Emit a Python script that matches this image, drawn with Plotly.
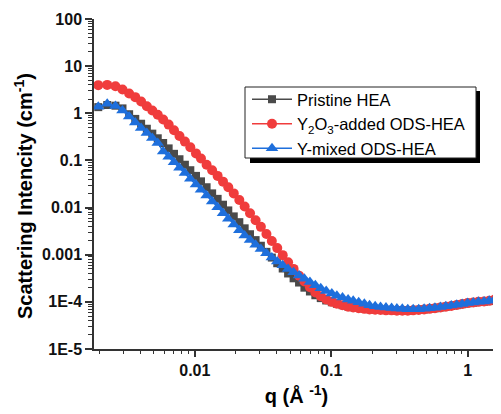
import plotly.graph_objects as go

q = [0.00196, 0.00228, 0.00262, 0.00295, 0.0033, 0.00366, 0.00404, 0.00445, 0.00488, 0.00535,
     0.00586, 0.00643, 0.00704, 0.00772, 0.00846, 0.00927, 0.0102, 0.0111, 0.0122, 0.0134,
     0.0147, 0.0161, 0.0176, 0.0193, 0.0212, 0.0232, 0.0254, 0.0279, 0.0305, 0.0335,
     0.0367, 0.0402, 0.0441, 0.0483, 0.0530, 0.0581, 0.0636, 0.0698, 0.0765, 0.0838,
     0.0919, 0.101, 0.110, 0.121, 0.133, 0.145, 0.159, 0.175, 0.191, 0.210,
     0.230, 0.252, 0.277, 0.303, 0.332, 0.364, 0.399, 0.438, 0.480, 0.526,
     0.576, 0.632, 0.692, 0.759, 0.832, 0.912, 1.00, 1.10, 1.20, 1.32,
     1.44, 1.58, 1.73]

pristine = [1.35, 1.5, 1.45, 1.27, 0.955, 0.76, 0.60, 0.47, 0.37, 0.295,
            0.234, 0.18, 0.138, 0.106, 0.081, 0.062, 0.047, 0.036, 0.027, 0.020,
            0.0153, 0.0115, 0.0087, 0.0065, 0.0049, 0.00363, 0.00272, 0.00204, 0.00155, 0.00115,
            0.00087, 0.00066, 0.00051, 0.0004, 0.000316, 0.000257, 0.0002, 0.000166, 0.000138, 0.00012,
            0.000107, 9.8e-5, 9.1e-5, 8.5e-5, 8.0e-5, 7.7e-5, 7.4e-5, 7.2e-5, 7.0e-5, 6.9e-5,
            6.8e-5, 6.7e-5, 6.7e-5, 6.6e-5, 6.6e-5, 6.6e-5, 6.7e-5, 6.8e-5, 6.9e-5, 7.1e-5,
            7.3e-5, 7.6e-5, 7.9e-5, 8.2e-5, 8.5e-5, 8.9e-5, 9.3e-5, 9.6e-5, 9.9e-5, 1.01e-4,
            1.04e-4, 1.1e-4, 1.0e-4]

y2o3 = [3.95, 4.0, 3.75, 3.2, 2.63, 2.2, 1.78, 1.41, 1.15, 0.93,
        0.74, 0.575, 0.436, 0.331, 0.251, 0.19, 0.141, 0.11, 0.081, 0.062,
        0.047, 0.0355, 0.0269, 0.020, 0.0145, 0.0105, 0.0076, 0.0054, 0.0039, 0.00275,
        0.00195, 0.00138, 0.00098, 0.00069, 0.0005, 0.00036, 0.00027, 0.000204, 0.000158, 0.000132,
        0.000112, 0.0001, 9.1e-5, 8.5e-5, 7.9e-5, 7.6e-5, 7.3e-5, 7.1e-5, 6.9e-5, 6.8e-5,
        6.7e-5, 6.6e-5, 6.6e-5, 6.5e-5, 6.5e-5, 6.5e-5, 6.6e-5, 6.7e-5, 6.9e-5, 7.1e-5,
        7.3e-5, 7.6e-5, 7.9e-5, 8.2e-5, 8.6e-5, 9.0e-5, 9.4e-5, 9.7e-5, 1.0e-4, 1.02e-4,
        1.05e-4, 1.12e-4, 1.0e-4]

ymixed = [1.37, 1.6, 1.42, 1.15, 0.85, 0.64, 0.49, 0.38, 0.30, 0.235,
          0.155, 0.119, 0.091, 0.070, 0.054, 0.041, 0.031, 0.024, 0.018, 0.0135,
          0.0101, 0.0076, 0.0058, 0.0044, 0.0033, 0.00257, 0.00204, 0.00162, 0.00132, 0.00107,
          0.00087, 0.00072, 0.0006, 0.0005, 0.000427, 0.000363, 0.000309, 0.000263, 0.000224, 0.000195,
          0.00017, 0.000151, 0.000135, 0.000123, 0.000112, 0.000105, 9.8e-5, 9.1e-5, 8.5e-5, 8.1e-5,
          7.8e-5, 7.6e-5, 7.4e-5, 7.2e-5, 7.1e-5, 7.0e-5, 7.0e-5, 7.0e-5, 7.1e-5, 7.3e-5,
          7.5e-5, 7.8e-5, 8.1e-5, 8.4e-5, 8.7e-5, 9.0e-5, 9.4e-5, 9.7e-5, 1.0e-4, 1.02e-4,
          1.05e-4, 1.12e-4, 1.0e-4]

series_names = ["Pristine HEA", "Y<sub>2</sub>O<sub>3</sub>-added ODS-HEA", "Y-mixed ODS-HEA"]
x_tickvals = [0.01, 0.1, 1]
x_ticktext = ["<b>0.01</b>", "<b>0.1</b>", "<b>1</b>"]
y_tickvals = [1e-5, 1e-4, 1e-3, 1e-2, 1e-1, 1, 10, 100]
y_ticktext = ["<b>1E-5</b>", "<b>1E-4</b>", "<b>0.001</b>", "<b>0.01</b>", "<b>0.1</b>",
              "<b>1</b>", "<b>10</b>", "<b>100</b>"]
x_title = "<b>q (Å <sup>-1</sup>)</b>"
y_title = "<b>Scattering Intencity (cm<sup>-1</sup>)</b>"

# page body has an 8px margin: figure is placed at (8, 8) in the window
OFF = 8
W, H = 501 - OFF, 414 - OFF
PL, PR, PT, PB = 94, 499, 19, 349          # plot area in window pixels
L, T = PL - OFF, PT - OFF
R = W - (PR - OFF)
B = H - (PB - OFF)
pw, ph = W - L - R, H - T - B


def px(x, y):
    """window pixel -> paper coords"""
    return (x - OFF - L) / pw, 1 - (y - OFF - T) / ph


FONT = "Liberation Sans, Arial, sans-serif"
AX = "#333333"

fig = go.Figure()
styles = [("#4a4a4a", "square", 8), ("#f03c3c", "circle", 10), ("#1e6fdc", "triangle-up", 11)]
for name, ys, (c, sym, sz) in zip(series_names, [pristine, y2o3, ymixed], styles):
    fig.add_trace(go.Scatter(x=q, y=ys, name=name, mode="lines+markers",
                             line=dict(color=c, width=1.5),
                             marker=dict(color=c, symbol=sym, size=sz, line=dict(width=0))))

xr = [-2.739, 0.23]
yr = [-5, 2]
common = dict(type="log", showgrid=False, zeroline=False, showline=True, linecolor=AX, linewidth=1.5,
              tickcolor=AX, tickwidth=1.5)
fig.update_layout(
    width=W, height=H, margin=dict(l=L, r=R, t=T, b=B),
    paper_bgcolor="white", plot_bgcolor="white",
    font=dict(family=FONT, color="black"),
    showlegend=True,
    xaxis=dict(range=xr, tickvals=x_tickvals, ticktext=x_ticktext, ticks="outside", ticklen=6,
               tickfont=dict(size=16, family=FONT, color="#111"),
               minor=dict(ticks="outside", ticklen=3, tickcolor=AX, tickwidth=1, dtick="D1"),
               title=dict(text=x_title, font=dict(size=20), standoff=11),
               **common),
    yaxis=dict(range=yr, tickvals=y_tickvals, ticktext=y_ticktext, ticks="outside", ticklen=7,
               tickfont=dict(size=16, family=FONT, color="#111"),
               minor=dict(ticks="outside", ticklen=4, tickcolor=AX, tickwidth=1, dtick="D1"),
               **common),
    xaxis2=dict(range=xr, overlaying="x", side="top", anchor="y", ticks="inside", ticklen=6,
                tickvals=x_tickvals, showticklabels=False,
                minor=dict(ticks="inside", ticklen=3, tickcolor=AX, tickwidth=1, dtick="D1"), **common),
    yaxis2=dict(range=yr, overlaying="y", side="right", anchor="x", ticks="inside", ticklen=6,
                tickvals=y_tickvals, showticklabels=False,
                minor=dict(ticks="inside", ticklen=3, tickcolor=AX, tickwidth=1, dtick="D1"), **common),
    legend=dict(x=px(247, 0)[0], y=px(0, 82)[1], xanchor="left", yanchor="top",
                bgcolor="rgba(0,0,0,0)", borderwidth=0, itemwidth=40,
                font=dict(size=16.5, family=FONT), tracegroupgap=0),
)

ytx, yty = px(23, 196)
fig.add_annotation(text=y_title, xref="paper", yref="paper", x=ytx, y=yty,
                   xanchor="center", yanchor="middle", textangle=-90, showarrow=False,
                   font=dict(size=20, family=FONT, color="black"))

# legend frame with drop shadow
sx0, sy1 = px(250, 91)
sx1, sy0 = px(480, 163)
bx0, by1 = px(245, 87)
bx1, by0 = px(476, 158)
fig.add_shape(type="rect", xref="paper", yref="paper", x0=sx0, x1=sx1, y0=sy0, y1=sy1,
              fillcolor="black", line=dict(width=0), layer="above")
fig.add_shape(type="rect", xref="paper", yref="paper", x0=bx0, x1=bx1, y0=by0, y1=by1,
              fillcolor="white", line=dict(color="#222222", width=1), layer="above")

fig.write_html("out.html")
